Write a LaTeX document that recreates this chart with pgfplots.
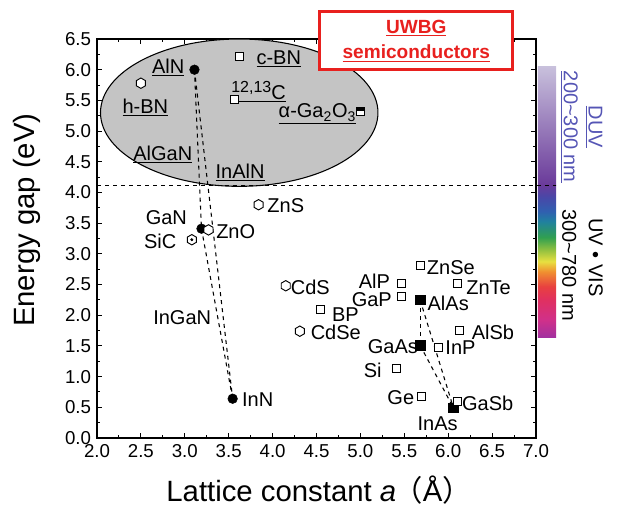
\documentclass[border=0pt]{standalone}
\usepackage{pgfplots}
\pgfplotsset{compat=1.18}
\usepackage{fontspec}
\setmainfont{Liberation Sans}
\newfontfamily\cjk{Noto Sans CJK JP}
\usetikzlibrary{plotmarks}

\definecolor{uwred}{HTML}{E8201E}
\definecolor{duvblue}{HTML}{5555B5}
\definecolor{ellgray}{HTML}{C4C4C4}
\definecolor{c01}{HTML}{A030A0}
\definecolor{c02}{HTML}{D0308A}
\definecolor{c03}{HTML}{E03060}
\definecolor{c04}{HTML}{E84040}
\definecolor{c05}{HTML}{F09030}
\definecolor{c06}{HTML}{E8E040}
\definecolor{c07}{HTML}{90C040}
\definecolor{c08}{HTML}{30A050}
\definecolor{c09}{HTML}{2080A0}
\definecolor{c10}{HTML}{3060B0}
\definecolor{c11}{HTML}{4848A8}
\definecolor{c12}{HTML}{6A3A9A}
\definecolor{duvtop}{HTML}{C8C0DC}

\pgfdeclareverticalshading{uvvis}{100bp}{color(0bp)=(c01); color(25bp)=(c01);
  color(30.9bp)=(c02); color(37.5bp)=(c03); color(41.8bp)=(c04); color(46.7bp)=(c05);
  color(50bp)=(c06); color(53.9bp)=(c07); color(57.9bp)=(c08); color(63.2bp)=(c09);
  color(66.4bp)=(c10); color(71bp)=(c11); color(75bp)=(c12); color(100bp)=(c12)}

\pgfdeclareplotmark{hexagon}{%
  \pgfpathmoveto{\pgfqpointpolar{90}{\pgfplotmarksize}}%
  \pgfpathlineto{\pgfqpointpolar{150}{\pgfplotmarksize}}%
  \pgfpathlineto{\pgfqpointpolar{210}{\pgfplotmarksize}}%
  \pgfpathlineto{\pgfqpointpolar{270}{\pgfplotmarksize}}%
  \pgfpathlineto{\pgfqpointpolar{330}{\pgfplotmarksize}}%
  \pgfpathlineto{\pgfqpointpolar{30}{\pgfplotmarksize}}%
  \pgfpathclose
  \pgfusepathqfillstroke}

\pgfdeclareplotmark{halfsquare}{%
  \pgfpathrectanglecorners{\pgfqpoint{-\pgfplotmarksize}{-\pgfplotmarksize}}{\pgfqpoint{\pgfplotmarksize}{\pgfplotmarksize}}%
  \pgfusepathqfillstroke
  \pgfsetfillcolor{black}%
  \pgfpathrectanglecorners{\pgfqpoint{-\pgfplotmarksize}{0pt}}{\pgfqpoint{\pgfplotmarksize}{\pgfplotmarksize}}%
  \pgfusepathqfill}

\tikzset{lbl/.style={font=\fontsize{15}{17}\selectfont, inner sep=1pt}}

\begin{document}
\begin{tikzpicture}
\useasboundingbox (-72.75pt,-51.75pt) rectangle (390pt,328.5pt);
\begin{axis}[
  at={(0,0)}, anchor=south west,
  scale only axis, width=329.25pt, height=299.25pt,
  xmin=2, xmax=7, ymin=0, ymax=6.5,
  xtick={2,2.5,...,7}, ytick={0,0.5,...,6.5},
  minor tick num=1,
  tick align=inside,
  major tick length=4pt, minor tick length=2.5pt,
  every tick/.style={line width=0.8pt, black},
  axis line style={line width=1.2pt},
  /pgf/number format/assume math mode=true,
  /pgf/number format/.cd, fixed, fixed zerofill, precision=1, /pgfplots/.cd,
  tick label style={font=\fontsize{14}{14}\selectfont},
  xticklabel style={yshift=-1.5pt},
  yticklabel style={xshift=-1pt},
  xlabel={Lattice constant \textit{a}\hspace{-2pt}{\cjk （}Å{\cjk ）}},
  ylabel={Energy gap (eV)},
  label style={font=\fontsize{22}{26}\selectfont},
  xlabel style={at={(axis description cs:0.506,-0.158)}, anchor=base, inner sep=0pt},
  ylabel style={at={(axis description cs:-0.16,0.546)}, anchor=center},
  clip=false,
]
% UWBG region
\draw[line width=0.8pt, fill=ellgray] (axis cs:3.62,5.3) ellipse [x radius=1.58, y radius=1.2];

% colour bar
\shade[top color=duvtop, bottom color=c12] (axis cs:7.02,4.12) rectangle (axis cs:7.23,6.05);
\shade[shading=uvvis] (axis cs:7.02,1.63) rectangle (axis cs:7.23,4.12);
\draw[dashed, line width=0.6pt] (axis cs:2,4.12) -- (axis cs:7.23,4.12);

% alloy lines
\addplot[dashed, line width=0.8pt] coordinates {(3.11,6.0) (3.19,3.41)};
\addplot[dashed, line width=0.8pt] coordinates {(3.11,6.0) (3.545,0.64)};
\addplot[dashed, line width=0.8pt] coordinates {(3.19,3.41) (3.545,0.64)};
\addplot[dashed, line width=0.8pt] coordinates {(5.68,2.25) (5.68,1.51)};
\addplot[dashed, line width=0.8pt] coordinates {(5.68,2.25) (6.06,0.49)};
\addplot[dashed, line width=0.8pt] coordinates {(5.68,1.51) (6.06,0.49)};

% nitrides (filled circles)
\addplot[only marks, mark=*, mark size=3.6pt, black] coordinates {(3.11,6.0) (3.19,3.41) (3.545,0.64)};
% filled squares
\addplot[only marks, mark=square*, mark size=3.6pt, black] coordinates {(5.68,2.25) (5.68,1.51) (6.06,0.49)};
% open squares
\addplot[only marks, mark=square*, mark size=3pt, mark options={fill=white, draw=black, line width=0.7pt}] coordinates {
 (3.62,6.22) (3.57,5.52) (4.54,2.09) (5.47,2.52) (5.47,2.30) (5.68,2.81) (6.11,2.52)
 (6.13,1.76) (5.89,1.48) (5.41,1.13) (5.70,0.68) (6.10,0.60)};
% hexagons
\addplot[only marks, mark=hexagon, mark size=3.9pt, mark options={fill=white, draw=black, line width=0.7pt}] coordinates {
 (2.50,5.78) (3.84,3.80) (3.27,3.39) (3.08,3.23) (4.15,2.48) (4.31,1.74)};
\addplot[only marks, mark=*, mark size=0.9pt, black] coordinates {(3.08,3.23)};
% alpha-Ga2O3
\addplot[only marks, mark=halfsquare, mark size=3pt, mark options={fill=white, draw=black, line width=0.7pt}] coordinates {(5.0,5.32)};

% labels
\node[lbl] at (axis cs:2.81,6.04) {\underline{AlN}};
\node[lbl] at (axis cs:2.55,5.39) {\underline{h-BN}};
\node[lbl] at (axis cs:4.07,6.18) {\underline{c-BN}};
\node[lbl] at (axis cs:3.84,5.64) {\underline{{\fontsize{12}{12}\selectfont\raisebox{5pt}{12,13}}C}};
\node[lbl] at (axis cs:4.51,5.28) {\underline{α-Ga\textsubscript{2}O\textsubscript{3}}};
\node[lbl] at (axis cs:2.75,4.62) {\underline{AlGaN}};
\node[lbl] at (axis cs:3.63,4.33) {\underline{InAlN}};
\node[lbl] at (axis cs:4.15,3.79) {ZnS};
\node[lbl] at (axis cs:3.58,3.37) {ZnO};
\node[lbl] at (axis cs:2.79,3.59) {GaN};
\node[lbl] at (axis cs:2.72,3.20) {SiC};
\node[lbl] at (axis cs:2.97,1.96) {InGaN};
\node[lbl] at (axis cs:3.83,0.62) {InN};
\node[lbl] at (axis cs:4.43,2.45) {CdS};
\node[lbl] at (axis cs:4.83,2.01) {BP};
\node[lbl] at (axis cs:4.72,1.72) {CdSe};
\node[lbl] at (axis cs:5.16,2.55) {AlP};
\node[lbl] at (axis cs:5.13,2.25) {GaP};
\node[lbl] at (axis cs:6.03,2.78) {ZnSe};
\node[lbl] at (axis cs:6.46,2.45) {ZnTe};
\node[lbl] at (axis cs:6.00,2.20) {AlAs};
\node[lbl] at (axis cs:6.51,1.72) {AlSb};
\node[lbl] at (axis cs:6.14,1.47) {InP};
\node[lbl] at (axis cs:5.37,1.49) {GaAs};
\node[lbl] at (axis cs:5.14,1.11) {Si};
\node[lbl] at (axis cs:5.46,0.65) {Ge};
\node[lbl] at (axis cs:6.45,0.57) {GaSb};
\node[lbl] at (axis cs:5.88,0.23) {InAs};

% colour bar texts
\node[rotate=-90, text=duvblue, font=\fontsize{15}{18}\selectfont] at (axis cs:7.66,5.07) {\underline{DUV}};
\node[rotate=-90, text=duvblue, font=\fontsize{15}{18}\selectfont] at (axis cs:7.38,5.07) {\underline{200\textasciitilde 300 nm}};
\node[rotate=-90, font=\fontsize{15}{18}\selectfont] at (axis cs:7.68,2.94) {UV • VIS};
\node[rotate=-90, font=\fontsize{15}{18}\selectfont] at (axis cs:7.38,2.81) {300\textasciitilde 780 nm};

% UWBG box
\node[draw=uwred, line width=2.2pt, fill=white, minimum width=145pt, minimum height=43.5pt,
  align=center, text=uwred, font=\bfseries\fontsize{14.3}{19}\selectfont]
  at (axis cs:5.636,6.47) {\underline{UWBG}\\\underline{semiconductors}};
\end{axis}
\end{tikzpicture}
\end{document}
